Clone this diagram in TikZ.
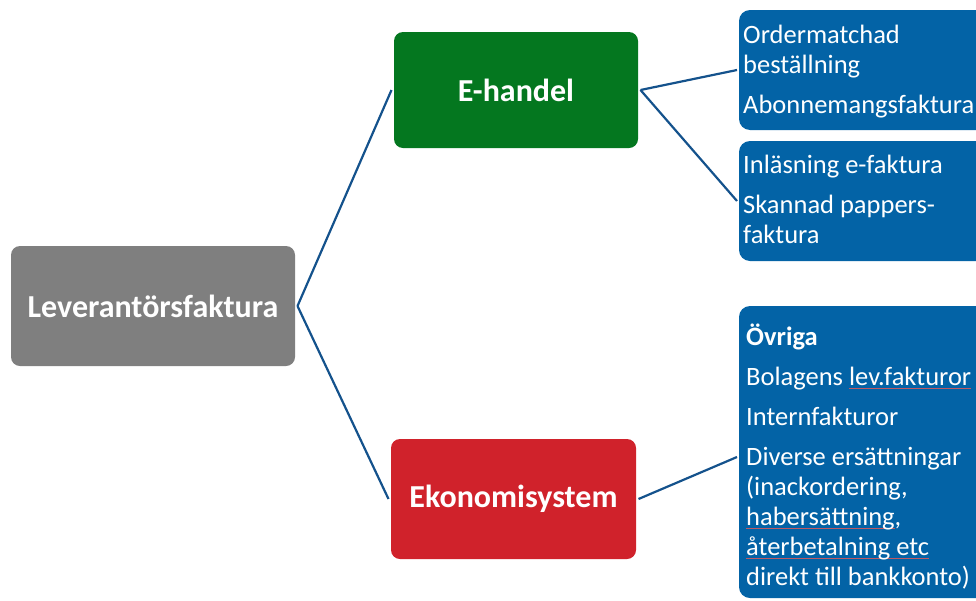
\documentclass[tikz,border=0pt]{standalone}
\usepackage{fontspec}
\setmainfont{Carlito}
\definecolor{cgray}{RGB}{127,127,127}
\definecolor{cgreen}{RGB}{4,119,31}
\definecolor{cred}{RGB}{208,34,43}
\definecolor{cblue}{RGB}{3,99,166}
\definecolor{cline}{RGB}{20,82,140}
\definecolor{spellred}{RGB}{190,90,100}
\newcommand\spellul[1]{\setbox0\hbox{#1}\rlap{\color{spellred}\rule[-3.5pt]{\wd0}{0.5pt}}\box0}
\tikzset{
  mainbox/.style={rounded corners=9pt, draw=none, text=white, font=\fontsize{32}{38}\selectfont\bfseries, outer sep=2.5pt},
  listbox/.style={rounded corners=11pt, fill=cblue, draw=none, outer sep=2pt},
  listtxt/.style={text=white, font=\fontsize{26.5}{30}\selectfont, align=left, inner sep=0pt},
  conn/.style={draw=cline, line width=2.2pt}
}
\begin{document}
\begin{tikzpicture}[x=1pt,y=-1pt]
\useasboundingbox (0,0) rectangle (976,600);
\clip (0,0) rectangle (976,600);
\node[mainbox, fill=cgray, minimum width=284pt, minimum height=120pt] (lev) at (153,306) {Leverantörsfaktura};
\node[mainbox, fill=cgreen, minimum width=244pt, minimum height=116pt] (eh) at (516,90) {E-handel};
\node[mainbox, fill=cred, minimum width=245pt, minimum height=120pt] (ek) at (513.5,499) {Ekonomisystem};
\node[listbox, minimum width=251pt, minimum height=120pt] (b1) at (864.5,70) {};
\node[listbox, minimum width=251pt, minimum height=120pt] (b2) at (864.5,201) {};
\node[listbox, minimum width=251pt, minimum height=292pt] (b3) at (864.5,452) {};
\coordinate (b3in) at (737,457);
\node[listtxt, anchor=base west] (t1) at (743,113) {Ordermatchad\\beställning\\[10pt]Abonnemangsfaktura};
\node[listtxt, anchor=base west] (t2) at (743,243) {Inläsning e-faktura\\[10pt]Skannad pappers-\\faktura};
\node[listtxt, anchor=base west] (t3) at (746,585) {\textbf{Övriga}\\[10pt]Bolagens \spellul{lev.fakturor}\\[10pt]Internfakturor\\[10pt]Diverse ersättningar\\(inackordering,\\\spellul{habersättning},\\\spellul{återbetalning etc}\\direkt till bankkonto)};
\draw[conn] (lev.east) -- (eh.west);
\draw[conn] (lev.east) -- (ek.west);
\draw[conn] (eh.east) -- (b1.west);
\draw[conn] (eh.east) -- (b2.west);
\draw[conn] (ek.east) -- (b3in);
\end{tikzpicture}
\end{document}
